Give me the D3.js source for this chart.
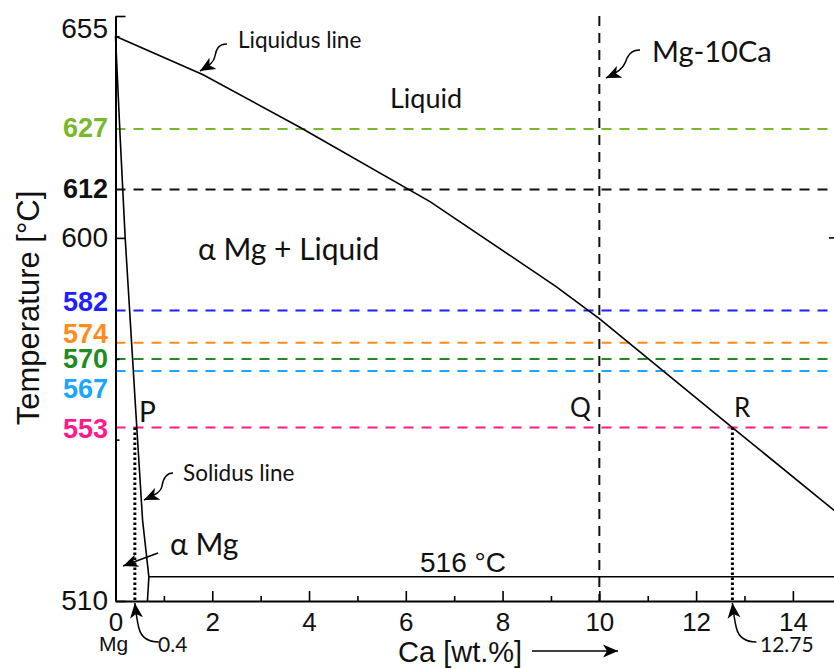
<!DOCTYPE html>
<html>
<head>
<meta charset="utf-8">
<script src="https://cdn.jsdelivr.net/npm/d3@7"></script>
<style>
  html, body { margin: 0; padding: 0; background: #fff; }
  svg { display: block; }
</style>
</head>
<body>
<div id="chart"></div>
<script>
///////////////////////////////////////////////////////////////////////////
// Data (Ca wt.%, temperature °C)
///////////////////////////////////////////////////////////////////////////
const liquidus = [[0, 650], [1.8, 640.5], [3.8, 627.5], [6.5, 609], [9.1, 588], [10, 580], [12.75, 553], [14.9, 532]];
const solidus  = [[0, 650], [0.1, 624], [0.2, 600], [0.44, 553], [0.56, 530], [0.69, 516]];
const solvus   = [[0.69, 516], [0.66, 510]];
const eutecticT = 516;
const alloyCa = 10;

const isoTemps  = [627, 612, 582, 574, 570, 567, 553];
const isoColors = ["#79b82b", "#111111", "#1f1fff", "#ff8c1a", "#1e8c1e", "#1aa6ff", "#ff1a8c"];
const isoLabelDy = [8, 8.5, 0, 0, 9, 27, 10.5];

const xMajorTicks = [0, 2, 4, 6, 8, 10, 12, 14];
const xMinorTicks = [1, 3, 5, 7, 9, 11, 13];
const yMajorTicks = [510, 600, 655];
const yMinorTicks = [550, 570, 650];

const pointP = 0.4, pointR = 12.75, pointT = 553;

///////////////////////////////////////////////////////////////////////////
// SVG + scales
///////////////////////////////////////////////////////////////////////////
const W = 834, H = 668;
const ARIAL = "'Liberation Sans', Arial, sans-serif";
const CALI = "Lato, 'Open Sans', sans-serif";

const svg = d3.select("#chart").append("svg")
  .attr("width", W).attr("height", H)
  .style("background-color", "#fff");

const x = d3.scaleLinear().domain([0, 14.85]).range([115.5, 834]);
const y = d3.scaleLinear().domain([510, 655]).range([601, 16]);

const defs = svg.append("defs");
defs.append("marker")
  .attr("id", "head")
  .attr("viewBox", "-15 -7 15 14")
  .attr("refX", 0).attr("refY", 0)
  .attr("markerWidth", 15).attr("markerHeight", 14)
  .attr("markerUnits", "userSpaceOnUse")
  .attr("orient", "auto")
  .append("path")
  .attr("d", "M0,0 L-15,-6.5 L-11,0 L-15,6.5 Z")
  .attr("fill", "#000");

const line = d3.line().x(d => x(d[0])).y(d => y(d[1]));

///////////////////////////////////////////////////////////////////////////
// Isotherms (dashed)
///////////////////////////////////////////////////////////////////////////
svg.append("g").selectAll("line")
  .data(isoTemps)
  .join("line")
  .attr("x1", x(0)).attr("x2", W)
  .attr("y1", d => y(d)).attr("y2", d => y(d))
  .attr("stroke", (d, i) => isoColors[i])
  .attr("stroke-width", 2)
  .attr("stroke-dasharray", "10,8");

svg.append("g").selectAll("text")
  .data(isoTemps)
  .join("text")
  .attr("x", 108)
  .attr("y", (d, i) => y(d) + isoLabelDy[i])
  .attr("text-anchor", "end")
  .attr("font-family", ARIAL)
  .attr("font-weight", "bold")
  .attr("font-size", "27px")
  .attr("fill", (d, i) => isoColors[i])
  .text(d => d);

// Mg-10Ca vertical
svg.append("line")
  .attr("x1", x(alloyCa)).attr("x2", x(alloyCa))
  .attr("y1", y(655)).attr("y2", y(510))
  .attr("stroke", "#111").attr("stroke-width", 2)
  .attr("stroke-dasharray", "10,7");

// dotted drops from P and R
[pointP, pointR].forEach(v => {
  svg.append("line")
    .attr("x1", x(v)).attr("x2", x(v))
    .attr("y1", y(pointT)).attr("y2", y(510))
    .attr("stroke", "#000").attr("stroke-width", 3)
    .attr("stroke-dasharray", "2.5,2.5");
});

///////////////////////////////////////////////////////////////////////////
// Phase boundaries
///////////////////////////////////////////////////////////////////////////
svg.append("path").datum(liquidus).attr("d", line)
  .attr("fill", "none").attr("stroke", "#000").attr("stroke-width", 1.6);
svg.append("path").datum(solidus).attr("d", line)
  .attr("fill", "none").attr("stroke", "#000").attr("stroke-width", 1.6);
svg.append("path").datum(solvus).attr("d", line)
  .attr("fill", "none").attr("stroke", "#000").attr("stroke-width", 1.6);
svg.append("line")
  .attr("x1", x(solidus[solidus.length - 1][0])).attr("x2", W)
  .attr("y1", y(eutecticT)).attr("y2", y(eutecticT))
  .attr("stroke", "#000").attr("stroke-width", 1.6);

///////////////////////////////////////////////////////////////////////////
// Axes
///////////////////////////////////////////////////////////////////////////
const xAxis = svg.append("g")
  .attr("transform", `translate(0,${y(510)})`)
  .call(d3.axisBottom(x).tickValues(xMajorTicks).tickSizeInner(-10).tickSizeOuter(0).tickPadding(12));
xAxis.selectAll("text").attr("font-family", ARIAL).attr("font-size", "26px").attr("fill", "#111");
xAxis.select(".domain").attr("stroke-width", 2);
xAxis.selectAll(".tick line").attr("stroke-width", 1.6)
  .filter(d => d === 0).remove();

svg.append("g")
  .attr("transform", `translate(0,${y(510)})`)
  .call(d3.axisBottom(x).tickValues(xMinorTicks).tickSizeInner(-5).tickSizeOuter(0).tickFormat(""))
  .call(g => g.select(".domain").remove())
  .selectAll(".tick line").attr("stroke-width", 1.6);

const yAxis = svg.append("g")
  .attr("transform", `translate(${x(0)},0)`)
  .call(d3.axisLeft(y).tickValues(yMajorTicks).tickSizeInner(-10).tickSizeOuter(0).tickPadding(7.5));
yAxis.selectAll("text").attr("font-family", ARIAL).attr("font-size", "28px").attr("fill", "#111")
  .filter(d => d === 655).attr("dy", "0.78em");
yAxis.select(".domain").attr("stroke-width", 2);
yAxis.selectAll(".tick line").attr("stroke-width", 1.6);

svg.append("g")
  .attr("transform", `translate(${x(0)},0)`)
  .call(d3.axisLeft(y).tickValues(yMinorTicks).tickSizeInner(-4).tickSizeOuter(0).tickFormat(""))
  .call(g => g.select(".domain").remove())
  .selectAll(".tick line").attr("stroke-width", 1.6);

// right frame tick at 600
svg.append("line")
  .attr("x1", W - 5).attr("x2", W)
  .attr("y1", y(600)).attr("y2", y(600))
  .attr("stroke", "#000").attr("stroke-width", 1.6);

// axis titles
svg.append("text")
  .attr("transform", `translate(39,308) rotate(-90)`)
  .attr("text-anchor", "middle")
  .attr("font-family", ARIAL).attr("font-size", "31px").attr("fill", "#111")
  .text("Temperature [°C]");

svg.append("text")
  .attr("x", 398).attr("y", 662)
  .attr("font-family", ARIAL).attr("font-size", "29px").attr("fill", "#111")
  .text("Ca [wt.%]");
svg.append("path")
  .attr("d", "M532,651 L618,651")
  .attr("stroke", "#000").attr("stroke-width", 1.5)
  .attr("marker-end", "url(#head)");

///////////////////////////////////////////////////////////////////////////
// Annotations
///////////////////////////////////////////////////////////////////////////
const labels = [
  { text: "Liquidus line", x: 238, y: 48, size: 22.5, font: CALI },
  { text: "Liquid", x: 390, y: 108, size: 27, font: CALI },
  { text: "α Mg + Liquid", x: 198, y: 260, size: 30, font: CALI },
  { text: "Mg-10Ca", x: 652, y: 62, size: 29, font: CALI },
  { text: "Q", x: 570, y: 417, size: 26, font: CALI },
  { text: "R", x: 734, y: 417, size: 26, font: CALI },
  { text: "P", x: 139, y: 422, size: 28, font: CALI },
  { text: "Solidus line", x: 183, y: 481, size: 22.5, font: CALI },
  { text: "α Mg", x: 170, y: 555, size: 30, font: CALI },
  { text: "516 °C", x: 420, y: 572, size: 28, font: ARIAL },
  { text: "Mg", x: 99, y: 651, size: 21, font: ARIAL },
  { text: "0.4", x: 158, y: 652, size: 21, font: CALI },
  { text: "12.75", x: 760, y: 652, size: 21, font: CALI }
];

labels.forEach(l => {
  svg.append("text")
    .attr("x", l.x).attr("y", l.y)
    .attr("font-family", l.font)
    .attr("font-size", l.size + "px")
    .attr("fill", "#111")
    .text(l.text);
});

// curly arrows
const upArrow = (tx, ty) =>
  `M${tx + 24},${ty + 39} C${tx + 12},${ty + 39} ${tx + 6},${ty + 33} ${tx + 4},${ty + 25} C${tx + 2},${ty + 17} ${tx + 1},${ty + 9} ${tx},${ty}`;

const arrows = [
  "M227,44 C218,44 216,50 215,56 C214,62 210,65 200,71",
  "M640,50 C630,50 627,57 625,63 C623,69 617,73 606,78",
  "M173,473 C165,473 163,480 162,486 C161,492 155,495 144,500",
  "M158,553 L123,566",
  upArrow(x(pointP), y(510) + 2),
  upArrow(x(pointR), y(510) + 2)
];

arrows.forEach(d => {
  svg.append("path")
    .attr("d", d)
    .attr("fill", "none")
    .attr("stroke", "#000")
    .attr("stroke-width", 1.5)
    .attr("marker-end", "url(#head)");
});
</script>
</body>
</html>
